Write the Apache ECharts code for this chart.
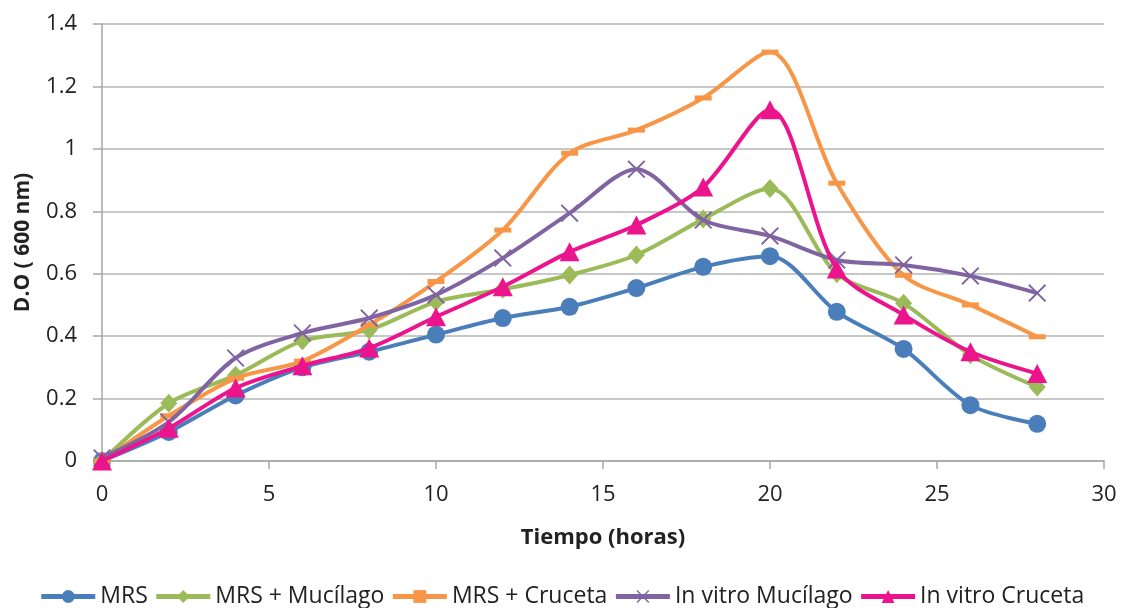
<!DOCTYPE html>
<html>
<head>
<meta charset="utf-8">
<script src="https://cdn.jsdelivr.net/npm/echarts@6/dist/echarts.min.js"></script>
<style>html,body{margin:0;padding:0;background:#fff}#c{width:1123px;height:608px}</style>
</head>
<body>
<div id="c"></div>
<script>
var hours = [0,2,4,6,8,10,12,14,16,18,20,22,24,26,28];
var mrs = [0,0.093,0.21,0.30,0.35,0.405,0.458,0.494,0.554,0.622,0.656,0.478,0.359,0.179,0.119];
var mrsMucilago = [0,0.185,0.275,0.385,0.42,0.51,0.55,0.596,0.66,0.775,0.873,0.60,0.505,0.34,0.237];
var mrsCruceta = [0,0.145,0.265,0.32,0.436,0.575,0.74,0.986,1.06,1.163,1.31,0.89,0.595,0.50,0.398];
var invitroMucilago = [0.01,0.125,0.33,0.41,0.458,0.532,0.65,0.794,0.935,0.772,0.721,0.644,0.628,0.593,0.538];
var invitroCruceta = [0,0.105,0.234,0.305,0.362,0.462,0.558,0.67,0.756,0.878,1.125,0.615,0.468,0.35,0.28];
var names = ['MRS','MRS + Mucílago','MRS + Cruceta','In vitro Mucílago','In vitro Cruceta'];
var yTicks = {min:0, max:1.4, interval:0.2};
var xTicks = {min:0, max:30, interval:5};

function pairs(arr){ return hours.map(function(h,i){ return [h, arr[i]]; }); }
var xPath = 'path://M0,1.5L1.5,0L10,8.5L18.5,0L20,1.5L11.5,10L20,18.5L18.5,20L10,11.5L1.5,20L0,18.5L8.5,10Z';
var defs = [
  {data: mrs, color:'#4A7EBB', symbol:'circle', size:18},
  {data: mrsMucilago, color:'#9BBB59', symbol:'diamond', size:[17,19]},
  {data: mrsCruceta, color:'#F79646', symbol:'rect', size:[17,5]},
  {data: invitroMucilago, color:'#8064A2', symbol:xPath, size:18},
  {data: invitroCruceta, color:'#EC148C', symbol:'triangle', size:[20,19]}
];
var font = 'Open Sans';
var chart = echarts.init(document.getElementById('c'));
chart.setOption({
  animation:false,
  backgroundColor:'#fff',
  grid:{left:102, right:19, top:24, bottom:147, containLabel:false},
  legend:{
    top:580, left:'center', itemWidth:54, itemHeight:16, itemGap:6,
    lineStyle:{width:5},
    textStyle:{fontFamily:font, fontSize:23, color:'#222'},
    data:names
  },
  xAxis:{
    type:'value', min:xTicks.min, max:xTicks.max, interval:xTicks.interval,
    name:'Tiempo (horas)', nameLocation:'middle', nameGap:66,
    nameTextStyle:{fontFamily:font, fontWeight:'bold', fontSize:22, color:'#222'},
    axisLine:{show:true, lineStyle:{color:'#a6a6a6', width:1.5}},
    axisTick:{show:true, length:8, lineStyle:{color:'#a6a6a6', width:1.5}},
    axisLabel:{fontFamily:font, fontSize:22, color:'#222', margin:23},
    splitLine:{show:false}
  },
  yAxis:{
    type:'value', min:yTicks.min, max:yTicks.max, interval:yTicks.interval,
    name:'D.O ( 600 nm)', nameLocation:'middle', nameGap:68, nameRotate:90,
    nameTextStyle:{fontFamily:font, fontWeight:'bold', fontSize:21, color:'#222'},
    axisLine:{show:true, lineStyle:{color:'#a6a6a6', width:1.5}},
    axisTick:{show:true, length:9, lineStyle:{color:'#a6a6a6', width:1.5}},
    axisLabel:{fontFamily:font, fontSize:22, color:'#222', margin:25},
    splitLine:{show:true, lineStyle:{color:'#b4b4b4', width:1.5}}
  },
  series: defs.map(function(d,i){
    return {
      name:names[i], type:'line', smooth:0.3, data:pairs(d.data),
      symbol:d.symbol, symbolSize:d.size, showAllSymbol:true,
      lineStyle:{color:d.color, width:4},
      itemStyle:{color:d.color, borderWidth:0},
      z: 2+i
    };
  })
});
</script>
</body>
</html>
